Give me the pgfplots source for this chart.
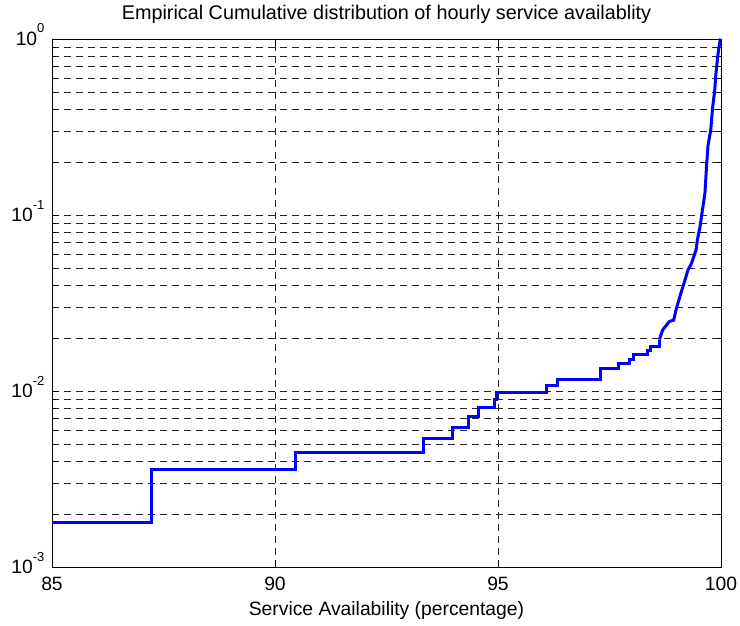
\documentclass[border=0pt]{standalone}
\usepackage{fontspec}
\setmainfont{Liberation Sans}
\usepackage{pgfplots}
\pgfplotsset{compat=1.18}
\newcommand{\tp}[1]{10\raisebox{12.5pt}{\fontsize{13}{13}\selectfont #1}}
\newcommand{\bigf}{\fontsize{19.3}{21}\selectfont}
\newcommand{\titf}{\fontsize{19.8}{21}\selectfont}
\begin{document}
\begin{tikzpicture}
\begin{axis}[
  at={(0,0)}, anchor=south west,
  scale only axis, width=669pt, height=528pt,
  xmin=85, xmax=100, ymin=1e-3, ymax=1,
  ymode=log,
  xtick={85,90,95,100}, xticklabels={85,90,95,100},
  ytick={1e-3,1e-2,1e-1,1}, yticklabels={\tp{-3},\tp{-2},\tp{-1},\tp{0}},
  minor ytick={2e-3,3e-3,4e-3,5e-3,6e-3,7e-3,8e-3,9e-3,2e-2,3e-2,4e-2,5e-2,6e-2,7e-2,8e-2,9e-2,0.2,0.3,0.4,0.5,0.6,0.7,0.8,0.9},
  grid=both,
  major grid style={black!85, line width=0.6pt, dash pattern=on 7pt off 5pt},
  minor grid style={black!85, line width=0.6pt, dash pattern=on 7pt off 5pt},
  tick align=inside,
  major tick length=7pt, minor tick length=4pt,
  every tick/.style={black, line width=0.6pt},
  axis line style={black, line width=0.9pt},
  every tick label/.append style={font=\bigf},
  xticklabel style={anchor=base, yshift=-23.7pt},
  yticklabel style={anchor=base east, yshift=-6.5pt, xshift=-4pt},
  title={Empirical Cumulative distribution of hourly service availablity},
  title style={font=\titf, at={(0.5,1)}, anchor=base, yshift=13pt},
  xlabel={Service Availability (percentage)},
  xlabel style={font=\bigf, at={(0.5,0)}, anchor=base, yshift=-48pt},
]
\addplot[blue, line width=3pt, const plot] coordinates {
(85,0.00178) (87.24,0.00356) (90.46,0.00445) (93.34,0.00534) (93.98,0.00623)
(94.33,0.00712) (94.57,0.00801) (94.92,0.0089) (94.97,0.0098) (96.08,0.01068)
(96.34,0.01157) (97.29,0.01335) (97.70,0.01424) (97.95,0.01513) (98.04,0.01602)
(98.36,0.01691) (98.42,0.0178) (98.62,0.0196)};
\addplot[blue, line width=3pt] coordinates {
(98.62,0.0196) (98.69,0.0222) (98.84,0.0248) (98.94,0.0253) (98.99,0.0288)
(99.10,0.0359) (99.17,0.0409) (99.26,0.0487) (99.34,0.0532) (99.44,0.0633)
(99.47,0.0721) (99.53,0.0858) (99.57,0.101) (99.64,0.133) (99.68,0.197)
(99.71,0.25) (99.77,0.304) (99.81,0.404) (99.86,0.513) (99.88,0.61)
(99.91,0.728) (99.94,0.847) (99.98,0.986) (100,1)};
\end{axis}
\pgfresetboundingbox
\path[use as bounding box] (-52pt,-59pt) rectangle (688pt,567pt);
\end{tikzpicture}
\end{document}
